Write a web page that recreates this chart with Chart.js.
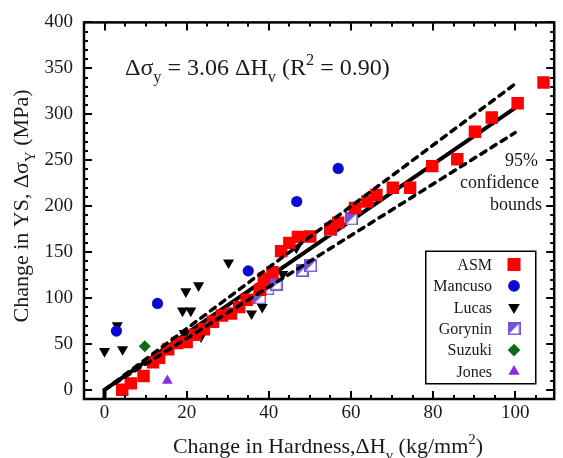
<!DOCTYPE html>
<html><head><meta charset="utf-8">
<script src="https://cdn.jsdelivr.net/npm/chart.js@4/dist/chart.umd.min.js"></script>
<style>html,body{margin:0;padding:0;background:#fff}#wrap{width:563px;height:458px;position:relative}</style>
</head><body><div id="wrap"><canvas id="c" width="563" height="458"></canvas></div>
<script>
// ---- data ----
const seriesNames = ['ASM', 'Mancuso', 'Lucas', 'Gorynin', 'Suzuki', 'Jones'];

const asmX = [4.3, 6.4, 9.5, 11.8, 13.3, 15.5, 17.7, 20, 22, 24.2, 26.4, 28.6, 30.8, 32.8, 34.6, 37.9, 38.8, 40.9, 43, 45, 47.1, 50.1, 55, 56.9, 61, 64, 66.2, 70.2, 74.4, 79.8, 85.9, 90.2, 94.3, 100.6, 106.9];
const asmY = [0, 7, 15, 30, 35, 44, 51, 52, 60, 66, 74, 81, 83, 90, 98, 109, 121, 128, 151, 160, 166.5, 167, 175, 182, 198, 205, 212, 220, 220, 243.5, 251, 281, 296.5, 312, 334.5];

const mancusoX = [2.9, 12.9, 35, 46.8, 56.9];
const mancusoY = [64, 94, 129.5, 205, 241];

const lucasX = [0, 3.1, 4.4, 19, 19.8, 21, 22.9, 30.2, 19.4, 23.5, 35.8, 38.4, 43.4, 46.7, 61];
const lucasY = [42, 70, 44, 86, 107, 86, 113.5, 138.5, 61.5, 58, 83, 90, 126, 154.5, 199.5];

const gorX = [37.8, 39.8, 41.8, 48.1, 50.2, 55, 60.1];
const gorY = [100, 110, 115, 130, 135, 174, 186];

const suzX = [9.8, 20];
const suzY = [47.5, 54.5];

const jonesX = [15.3];
const jonesY = [10];

const fitX = [0, 0, 100];
const fitY = [-10, 0, 307];
const upperX = [0, 100];
const upperY = [0, 333];
const lowerX = [0, 100];
const lowerY = [0, 280];

const xTickVals = [0, 20, 40, 60, 80, 100];
const yTickVals = [0, 50, 100, 150, 200, 250, 300, 350, 400];

// ---- helpers ----
const pts = (xs, ys) => xs.map((x, i) => ({x: x, y: ys[i]}));
const SERIF = '"Liberation Serif", "DejaVu Serif", serif';

// Gorynin half-filled square marker
const gor = document.createElement('canvas');
gor.width = 13; gor.height = 13;
(function () {
  const g = gor.getContext('2d');
  g.fillStyle = '#ffffff'; g.fillRect(0, 0, 13, 13);
  g.fillStyle = '#7452d9';
  g.beginPath(); g.moveTo(0, 0); g.lineTo(13, 0); g.lineTo(0, 13); g.closePath(); g.fill();
  g.strokeStyle = '#7452d9'; g.lineWidth = 1.6; g.strokeRect(0.8, 0.8, 11.4, 11.4);
})();

const mk = (label, data, color, style, r, rot, order) => ({
  label: label, data: data, showLine: false,
  backgroundColor: color, borderColor: color,
  pointStyle: style, pointRadius: r, pointRotation: rot || 0,
  pointBorderWidth: 0, pointHoverRadius: r, order: order
});

const datasets = [
  {label: 'upper', data: pts(upperX, upperY), showLine: true, borderColor: '#000', borderWidth: 3.5,
   borderDash: [6, 6], borderCapStyle: 'round', pointRadius: 0, order: 0},
  {label: 'lower', data: pts(lowerX, lowerY), showLine: true, borderColor: '#000', borderWidth: 3.5,
   borderDash: [6, 6], borderCapStyle: 'round', pointRadius: 0, order: 0},
  mk(seriesNames[0], pts(asmX, asmY), '#ff0000', 'rect', 8.8, 0, 1),
  mk(seriesNames[1], pts(mancusoX, mancusoY), '#0a0ad2', 'circle', 5.6, 0, 2),
  mk(seriesNames[2], pts(lucasX, lucasY), '#000000', 'triangle', 6.4, 180, 2),
  mk(seriesNames[3], pts(gorX, gorY), '#7452d9', gor, 6.5, 0, 2),
  mk(seriesNames[4], pts(suzX, suzY), '#0f6a1c', 'rectRot', 6, 0, 2),
  mk(seriesNames[5], pts(jonesX, jonesY), '#8a2ee0', 'triangle', 6.2, 0, 2),
  {label: 'fit', data: pts(fitX, fitY), showLine: true, borderColor: '#000', borderWidth: 4,
   pointRadius: 0, order: 5}
];

function richText(ctx, parts, size) {
  // returns total width; parts: [text, kind] kind: 'n','sub','sup'
  let w = 0;
  parts.forEach(p => {
    const s = p[1] === 'n' ? size : size * 0.68;
    ctx.font = s + 'px ' + SERIF;
    w += ctx.measureText(p[0]).width;
  });
  return w;
}
function drawRich(ctx, parts, x, y, size) {
  let cx = x;
  parts.forEach(p => {
    const s = p[1] === 'n' ? size : size * 0.68;
    ctx.font = s + 'px ' + SERIF;
    let dy = 0;
    if (p[1] === 'sub') dy = size * 0.3;
    if (p[1] === 'sup') dy = -size * 0.42;
    ctx.fillText(p[0], cx, y + dy);
    cx += ctx.measureText(p[0]).width;
  });
}

const decor = {
  id: 'decor',
  afterDraw(chart) {
    const ctx = chart.ctx;
    const a = chart.chartArea;
    const xs = chart.scales.x, ys = chart.scales.y;
    ctx.save();
    // frame
    ctx.strokeStyle = '#000'; ctx.lineWidth = 2.5;
    ctx.strokeRect(a.left, a.top, a.right - a.left, a.bottom - a.top);
    // ticks
    ctx.lineWidth = 2;
    ctx.beginPath();
    for (let v = 0; v <= xs.max; v += 5) {
      const px = Math.round(xs.getPixelForValue(v)) + 0.0;
      const L = (v % 20 === 0) ? 8 : 4;
      ctx.moveTo(px, a.bottom); ctx.lineTo(px, a.bottom - L);
      ctx.moveTo(px, a.top); ctx.lineTo(px, a.top + L);
    }
    for (let v = 0; v <= ys.max; v += 10) {
      const py = Math.round(ys.getPixelForValue(v));
      const L = (v % 50 === 0) ? 8 : 4;
      ctx.moveTo(a.left, py); ctx.lineTo(a.left + L, py);
      ctx.moveTo(a.right, py); ctx.lineTo(a.right - L, py);
    }
    ctx.stroke();

    ctx.fillStyle = '#1a1a1a';
    ctx.textBaseline = 'alphabetic';
    ctx.textAlign = 'left';
    // equation
    drawRich(ctx, [['\u0394\u03c3', 'n'], ['y', 'sub'], [' = 3.06 \u0394H', 'n'], ['v', 'sub'],
      [' (R', 'n'], ['2', 'sup'], [' = 0.90)', 'n']], 125, 75, 24);

    // confidence text
    ctx.font = '18px ' + SERIF;
    ctx.textAlign = 'right';
    ctx.textBaseline = 'middle';
    ctx.fillText('95%', 538, 161);
    ctx.fillText('confidence', 539, 183);
    ctx.fillText('bounds', 542, 205);

    // x axis title
    ctx.textAlign = 'left'; ctx.textBaseline = 'alphabetic';
    const xt = [['Change in Hardness,\u0394H', 'n'], ['v', 'sub'], [' (kg/mm', 'n'], ['2', 'sup'], [')', 'n']];
    const xw = richText(ctx, xt, 22);
    drawRich(ctx, xt, 328 - xw / 2, 453, 22);

    // y axis title
    const yt = [['Change in YS, \u0394\u03c3', 'n'], ['Y', 'sub'], [' (MPa)', 'n']];
    const yw = richText(ctx, yt, 22);
    ctx.save();
    ctx.translate(28, 206);
    ctx.rotate(-Math.PI / 2);
    drawRich(ctx, yt, -yw / 2, 0, 22);
    ctx.restore();

    // legend
    ctx.strokeStyle = '#000'; ctx.lineWidth = 1.5;
    ctx.strokeRect(425.75, 251.25, 110, 132.5);
    ctx.font = '16px ' + SERIF;
    ctx.textAlign = 'right'; ctx.textBaseline = 'middle';
    const legendSets = chart.data.datasets.filter(d => seriesNames.indexOf(d.label) >= 0);
    seriesNames.forEach((name, i) => {
      const ds = legendSets.find(d => d.label === name);
      const y = 264.5 + i * 21.4;
      ctx.fillStyle = '#1a1a1a';
      ctx.fillText(name, 492, y + 1);
      ctx.fillStyle = ds.backgroundColor; ctx.strokeStyle = ds.borderColor;
      Chart.helpers.drawPoint(ctx, {pointStyle: ds.pointStyle, rotation: ds.pointRotation,
        radius: ds.pointRadius * 1.05, borderWidth: 0}, 514, y);
    });
    ctx.restore();
  }
};

new Chart(document.getElementById('c'), {
  type: 'scatter',
  data: {datasets: datasets},
  options: {
    responsive: false, animation: false, devicePixelRatio: 1,
    layout: {padding: {left: 0, right: 3, top: 17, bottom: 0}},
    plugins: {legend: {display: false}, tooltip: {enabled: false}},
    scales: {
      x: {
        type: 'linear', min: -5, max: 109.5,
        grid: {display: false, drawTicks: false}, border: {display: false},
        ticks: {font: {family: SERIF, size: 19}, color: '#1a1a1a', padding: 3, includeBounds: false, maxRotation: 0},
        afterBuildTicks: s => { s.ticks = xTickVals.map(v => ({value: v})); },
        afterFit: s => { s.height = 59; }
      },
      y: {
        type: 'linear', min: -10, max: 400,
        grid: {display: false, drawTicks: false}, border: {display: false},
        ticks: {font: {family: SERIF, size: 19}, color: '#1a1a1a', padding: 11, includeBounds: false},
        afterBuildTicks: s => { s.ticks = yTickVals.map(v => ({value: v})); },
        afterFit: s => { s.width = 84; }
      }
    }
  },
  plugins: [decor]
});
</script>
</body></html>
